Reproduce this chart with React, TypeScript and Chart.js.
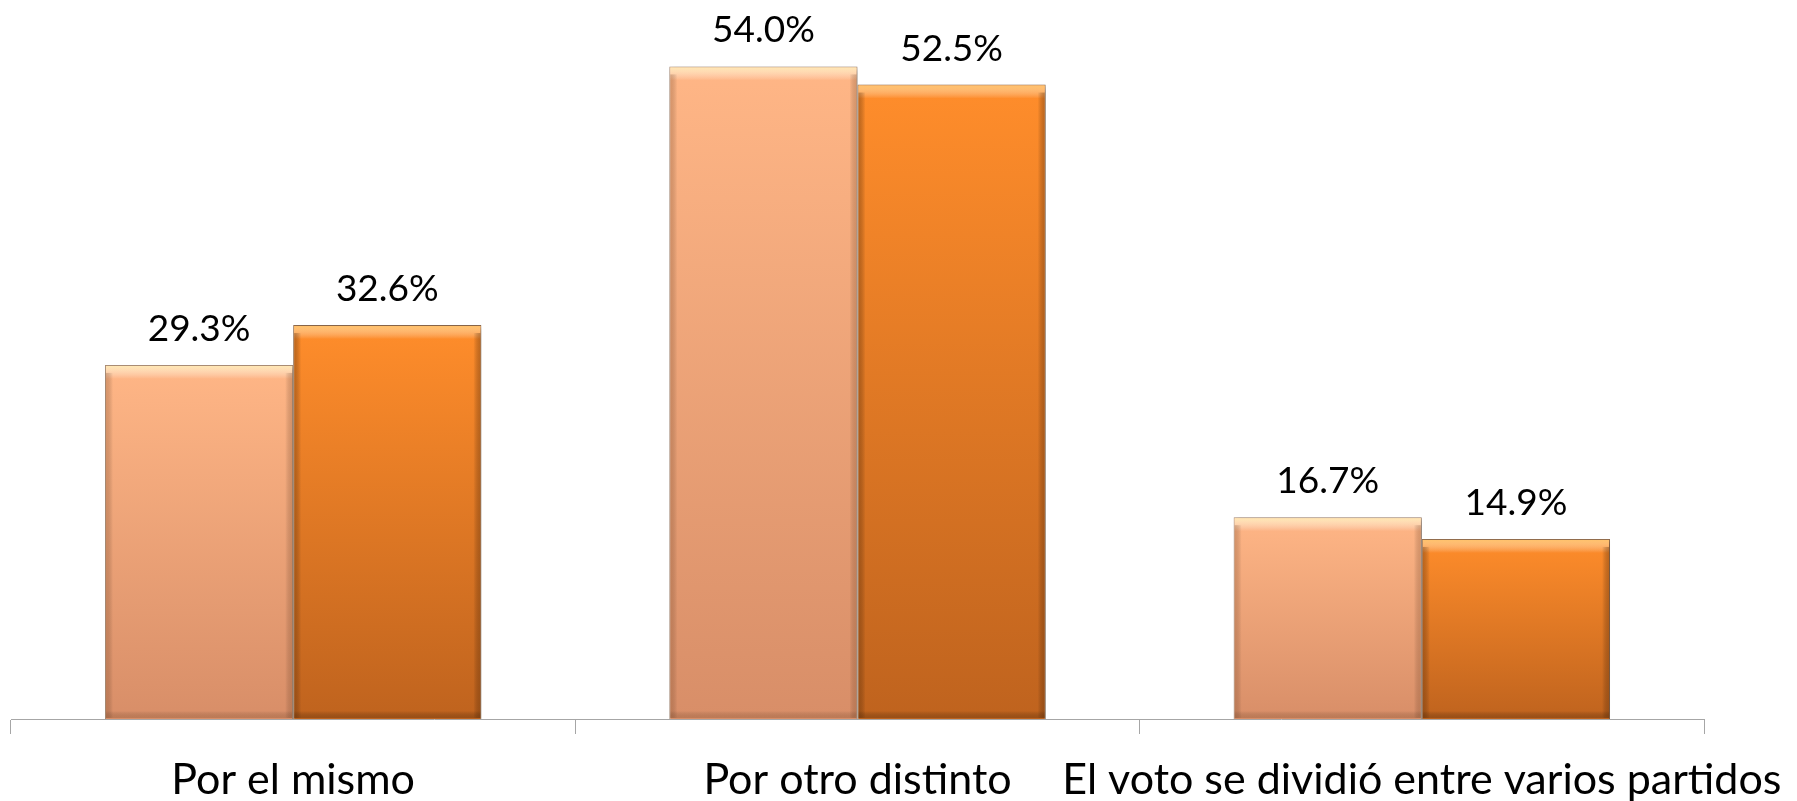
import React, { useEffect, useRef } from "react";
import { Chart, registerables } from "chart.js";

Chart.register(...registerables);

const categories = ["Por el mismo", "Por otro distinto", "El voto se dividió entre varios partidos"];
const seriesA = [29.3, 54.0, 16.7];
const seriesB = [32.6, 52.5, 14.9];
const seriesNames = ["Serie 1", "Serie 2"];

const palettes = [
  { top: "#FFB686", bottom: "#D88E68", hi: "rgba(255,236,180,0.95)", edge: "rgba(150,90,50,0.35)" },
  { top: "#FF8D2B", bottom: "#BF631E", hi: "rgba(255,200,110,0.9)", edge: "rgba(110,55,10,0.45)" },
];

function makeFill(pal: any) {
  return (ctx: any) => {
    const chart = ctx.chart;
    const area = chart.chartArea;
    if (!area || ctx.type !== "data") return pal.top;
    const y = chart.scales.y;
    const v = ctx.raw as number;
    const yTop = y.getPixelForValue(v);
    const yBot = y.getPixelForValue(0);
    const g = chart.ctx.createLinearGradient(0, yTop, 0, yBot);
    g.addColorStop(0, pal.top);
    g.addColorStop(1, pal.bottom);
    return g;
  };
}

const shadowPlugin = {
  id: "barShadow",
  beforeDatasetDraw(chart: any) {
    const c = chart.ctx;
    c.save();
    c.shadowColor = "rgba(0,0,0,0.35)";
    c.shadowBlur = 5;
    c.shadowOffsetX = 2;
    c.shadowOffsetY = 2;
  },
  afterDatasetDraw(chart: any) {
    chart.ctx.restore();
  },
};

const bevelPlugin = {
  id: "bevelAndLabels",
  afterDatasetsDraw(chart: any) {
    const c = chart.ctx;
    chart.data.datasets.forEach((ds: any, di: number) => {
      const meta = chart.getDatasetMeta(di);
      const pal = palettes[di];
      meta.data.forEach((bar: any, i: number) => {
        const w = bar.width;
        const left = bar.x - w / 2;
        const top = bar.y;
        const bottom = bar.base;
        const h = bottom - top;
        c.save();
        // top highlight band
        const gt = c.createLinearGradient(0, top, 0, top + 14);
        gt.addColorStop(0, pal.hi);
        gt.addColorStop(1, "rgba(255,255,255,0)");
        c.fillStyle = gt;
        c.fillRect(left + 1, top + 1, w - 2, 14);
        // left edge
        const gl = c.createLinearGradient(left, 0, left + 8, 0);
        gl.addColorStop(0, pal.edge);
        gl.addColorStop(1, "rgba(0,0,0,0)");
        c.fillStyle = gl;
        c.fillRect(left + 1, top + 8, 8, h - 9);
        // right edge
        const gr = c.createLinearGradient(left + w - 8, 0, left + w, 0);
        gr.addColorStop(0, "rgba(0,0,0,0)");
        gr.addColorStop(1, pal.edge);
        c.fillStyle = gr;
        c.fillRect(left + w - 9, top + 8, 8, h - 9);
        // bottom edge
        const gb = c.createLinearGradient(0, bottom - 8, 0, bottom);
        gb.addColorStop(0, "rgba(0,0,0,0)");
        gb.addColorStop(1, pal.edge);
        c.fillStyle = gb;
        c.fillRect(left + 1, bottom - 9, w - 2, 8);
        c.restore();

        // data label
        c.save();
        c.font = "37px Lato";
        c.fillStyle = "#000";
        c.textAlign = "center";
        c.textBaseline = "alphabetic";
        c.fillText(ds.data[i].toFixed(1) + "%", bar.x, top - 24);
        c.restore();
      });
    });
  },
};

export default function App() {
  const ref = useRef<HTMLCanvasElement | null>(null);
  useEffect(() => {
    if (!ref.current) return;
    const chart = new Chart(ref.current, {
      type: "bar",
      data: {
        labels: categories,
        datasets: [
          {
            label: seriesNames[0],
            data: seriesA,
            backgroundColor: makeFill(palettes[0]),
            borderColor: "rgba(140,100,70,0.75)",
            borderWidth: 1,
            categoryPercentage: 0.667,
            barPercentage: 1.0,
          },
          {
            label: seriesNames[1],
            data: seriesB,
            backgroundColor: makeFill(palettes[1]),
            borderColor: "rgba(110,60,20,0.75)",
            borderWidth: 1,
            categoryPercentage: 0.667,
            barPercentage: 1.0,
          },
        ],
      },
      options: {
        responsive: false,
        animation: false,
        devicePixelRatio: 1,
        layout: { padding: { left: 11, right: 93, top: 6, bottom: 0 } },
        plugins: { legend: { display: false }, tooltip: { enabled: false } },
        scales: {
          x: {
            grid: {
              display: true,
              drawOnChartArea: false,
              drawTicks: true,
              tickLength: 15,
              offset: true,
              color: "#a6a6a6",
            },
            border: { display: true, color: "#a6a6a6", width: 1 },
            ticks: {
              color: "#000",
              font: { family: "Lato", size: 43 },
              padding: 20,
              maxRotation: 0,
              autoSkip: false,
            },
            afterFit: (scale: any) => {
              scale.height = 82;
              scale.paddingLeft = 0;
              scale.paddingRight = 0;
            },
          } as any,
          y: {
            display: false,
            min: 0,
            max: 59,
          },
        },
      },
      plugins: [shadowPlugin, bevelPlugin],
    } as any);
    return () => chart.destroy();
  }, []);
  return (
    <div style={{ position: "fixed", left: 0, top: 0, width: 1797, height: 801, background: "#fff" }}>
      <canvas ref={ref} width={1797} height={801} style={{ display: "block" }} />
    </div>
  );
}
